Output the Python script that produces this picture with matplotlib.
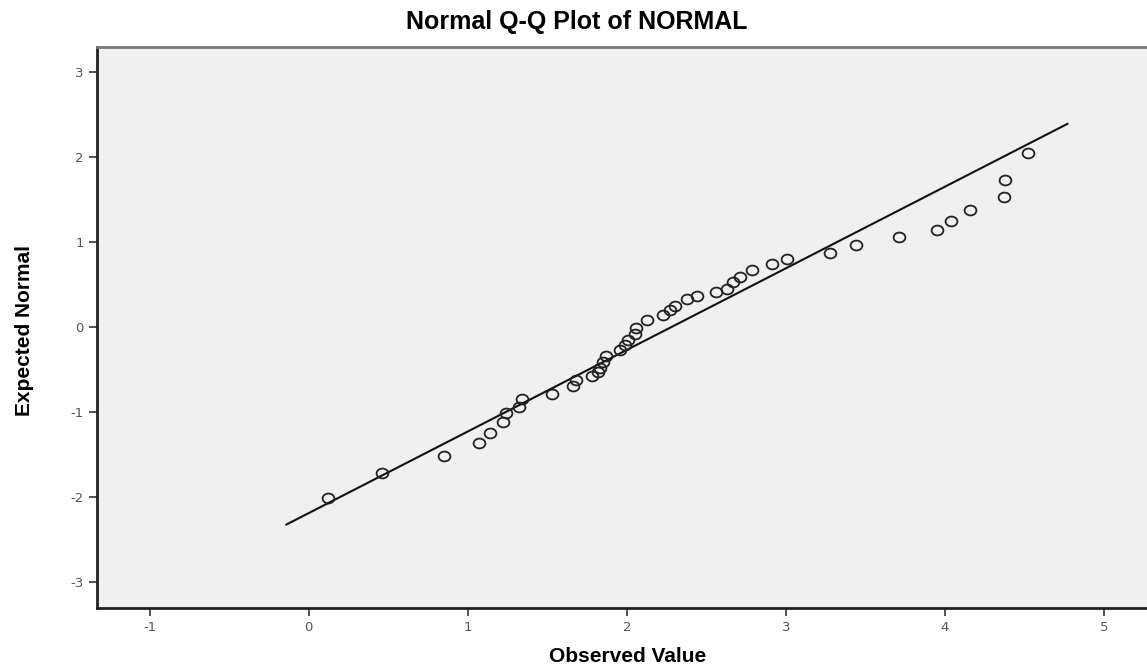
import numpy as np
import matplotlib
matplotlib.use("Agg")
import matplotlib.pyplot as plt
from matplotlib.path import Path
from matplotlib.transforms import Affine2D

plt.rcParams["axes.unicode_minus"] = False

observed = [0.12, 0.46, 0.85, 1.07, 1.14, 1.22, 1.24, 1.32, 1.34, 1.53,
            1.66, 1.68, 1.78, 1.82, 1.83, 1.85, 1.87, 1.96, 1.99, 2.01,
            2.05, 2.06, 2.13, 2.23, 2.27, 2.30, 2.38, 2.44, 2.56, 2.63,
            2.67, 2.71, 2.79, 2.91, 3.01, 3.28, 3.44, 3.71, 3.95, 4.04,
            4.16, 4.37, 4.38, 4.52]
expected = [-2.01, -1.71, -1.51, -1.36, -1.24, -1.12, -1.01, -0.94, -0.85, -0.79,
            -0.69, -0.62, -0.58, -0.53, -0.48, -0.41, -0.34, -0.27, -0.21, -0.15,
            -0.08, -0.01, 0.08, 0.14, 0.20, 0.25, 0.33, 0.36, 0.41, 0.45,
            0.53, 0.59, 0.67, 0.74, 0.80, 0.87, 0.96, 1.06, 1.14, 1.25,
            1.38, 1.53, 1.73, 2.04]

# reference line y = (x - mean) / sd
line_mean = 2.28
line_sd = 1.043
line_x = [-0.14, 4.77]

x_ticks = [-1, 0, 1, 2, 3, 4, 5]
y_ticks = [3, 2, 1, 0, -1, -2, -3]

# circles look a bit wider than tall in the original
oval = Path.unit_circle().transformed(Affine2D().scale(1.2, 1.0))

fig = plt.figure(figsize=(11.47, 6.70), dpi=100)
ax = fig.add_axes([97 / 1147, 1 - 608 / 670, 1 - 97 / 1147, (608 - 47) / 670])
ax.set_facecolor("#f0f0f0")

lx = np.array(line_x)
ax.plot(lx, (lx - line_mean) / line_sd, color="#111111", lw=1.5, zorder=2)
ax.plot(observed, expected, ls="none", marker=oval, ms=8.5, mfc="none",
        mec="#222222", mew=1.3, zorder=3)

ax.set_xlim(-1.33, 5.27)
ax.set_ylim(-3.3, 3.29)
ax.set_xticks(x_ticks)
ax.set_yticks(y_ticks)
ax.tick_params(direction="out", length=6, width=1.2, colors="#333333",
               labelsize=9.5, labelcolor="#555555")

for side in ["left", "bottom"]:
    ax.spines[side].set_linewidth(2)
    ax.spines[side].set_color("#222222")
ax.spines["top"].set_linewidth(2)
ax.spines["top"].set_color("#777777")
ax.spines["right"].set_visible(False)

narrow = ["Liberation Sans Narrow", "Liberation Sans", "DejaVu Sans"]
fig.text(628 / 1147, 1 - 656 / 670, "Observed Value", ha="center", va="center",
         family=narrow, fontsize=15, fontweight="bold")
fig.text(25 / 1147, 1 - 330 / 670, "Expected Normal", ha="center", va="center",
         rotation=90, family=narrow, fontsize=15, fontweight="bold")
fig.text(0.503, 1 - 22 / 670, "Normal Q-Q Plot of NORMAL", ha="center", va="center",
         family=["Liberation Sans", "DejaVu Sans"], fontsize=18, fontweight="bold")

fig.savefig("out.png", dpi=100)
